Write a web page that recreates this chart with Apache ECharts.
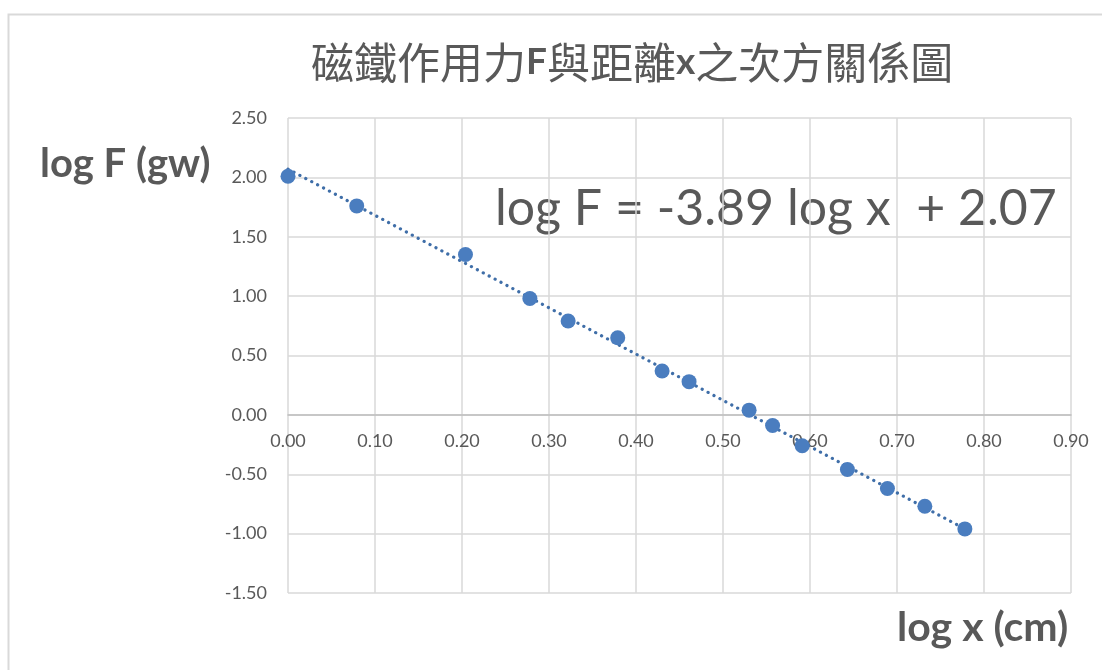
<!DOCTYPE html>
<html>
<head>
<meta charset="utf-8">
<title>磁鐵作用力F與距離x之次方關係圖</title>
<script src="https://cdn.jsdelivr.net/npm/echarts@6/dist/echarts.min.js"></script>
<style>
  html, body { margin: 0; padding: 0; background: #fff; }
  #chart { width: 1102px; height: 670px; }
</style>
</head>
<body>
<div id="chart"></div>
<script>
// 實驗數據 (log x, log F)
const logX = [0.000, 0.079, 0.204, 0.278, 0.322, 0.379, 0.430, 0.461, 0.530, 0.557, 0.591, 0.643, 0.689, 0.732, 0.778]
const logF = [2.01, 1.76, 1.35, 0.98, 0.79, 0.65, 0.37, 0.28, 0.04, -0.09, -0.26, -0.46, -0.62, -0.77, -0.96]

// 趨勢線端點
const trendX = [0.000, 0.778]
const trendY = [2.07, -0.96]

const eqText = 'log F = -3.89 log x  + 2.07'

const gridColor = '#d9d9d9'
const textColor = '#595959'
const latin = 'Lato, "Open Sans", sans-serif'

const myChart = echarts.init(document.getElementById('chart'))

const option = {
    animation: false,
    backgroundColor: '#fff',
    title: {
        left: 306,
        top: 36,
        text: '{a|磁鐵作用力}{b|F}{a|與距離}{b|x}{a|之次方關係圖}',
        textStyle: {
            rich: {
                a: { fontFamily: '"Noto Sans CJK TC"', fontSize: 43, fontWeight: 'normal', color: textColor },
                b: { fontFamily: latin, fontSize: 37, fontWeight: 'bold', color: textColor }
            }
        }
    },
    grid: { left: 288, right: 31, top: 118, bottom: 77 },
    xAxis: {
        type: 'value',
        min: 0, max: 0.9, interval: 0.1,
        // 標籤放在 y=0 的軸線下方
        offset: -178.1,
        axisLine: { onZero: false, lineStyle: { color: '#bfbfbf', width: 1.5 } },
        axisTick: { show: false },
        axisLabel: {
            color: textColor, fontSize: 18, fontFamily: latin, margin: 17,
            formatter: v => v.toFixed(2)
        },
        splitLine: { lineStyle: { color: gridColor, width: 1.5 } }
    },
    yAxis: {
        type: 'value',
        min: -1.5, max: 2.5, interval: 0.5,
        axisLine: { show: false },
        axisTick: { show: false },
        axisLabel: {
            color: textColor, fontSize: 18, fontFamily: latin, margin: 21,
            formatter: v => v.toFixed(2)
        },
        splitLine: { lineStyle: { color: gridColor, width: 1.5 } }
    },
    graphic: [
        {
            type: 'rect', silent: true, z: -1,
            shape: { x: 8.5, y: 14.5, width: 1200, height: 800 },
            style: { fill: 'none', stroke: '#d9d9d9', lineWidth: 2 }
        },
        {
            type: 'text', left: 40, top: 144,
            style: { text: 'log F (gw)', fill: textColor, font: 'bold 40px ' + latin }
        },
        {
            type: 'text', left: 897, top: 607,
            style: { text: 'log x (cm)', fill: textColor, font: 'bold 41px ' + latin }
        },
        {
            type: 'text', left: 495, top: 184,
            style: { text: eqText, fill: textColor, font: '50px ' + latin }
        }
    ],
    series: [
        {
            name: 'trend',
            type: 'line',
            data: trendX.map((x, i) => [x, trendY[i]]),
            showSymbol: false,
            symbol: 'none',
            lineStyle: { color: '#3f6ea8', width: 3.2, type: [0.1, 6.6], cap: 'round' },
            z: 2
        },
        {
            name: 'data',
            type: 'scatter',
            data: logX.map((x, i) => [x, logF[i]]),
            symbolSize: 15,
            itemStyle: { color: '#4a7dbf', opacity: 1 },
            z: 3
        }
    ]
}

myChart.setOption(option)
</script>
</body>
</html>
